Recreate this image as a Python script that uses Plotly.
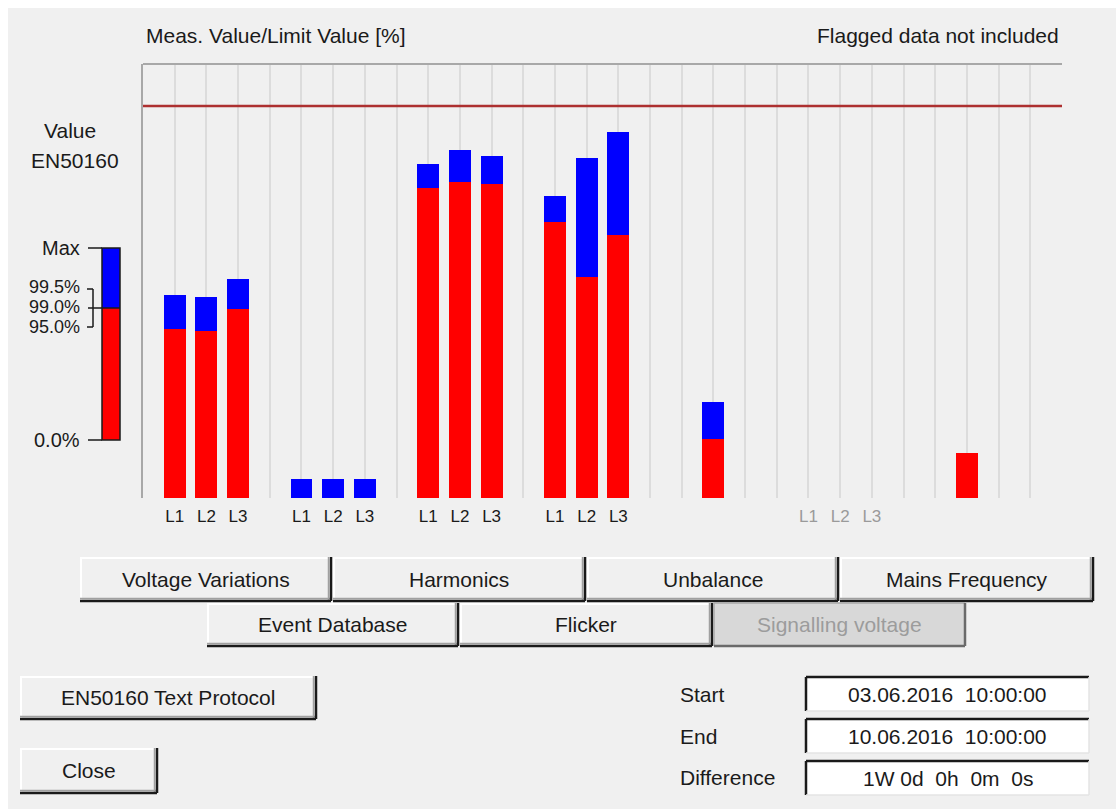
import plotly.graph_objects as go

# ---- data -------------------------------------------------------------
# slot index of every bar on the horizontal scale (28 slots)
bar_slots = [1, 2, 3, 5, 6, 7, 9, 10, 11, 13, 14, 15, 18, 26]
# 95 % value (red part) and maximum (top of blue part), in % of limit value
p95_values = [43.2, 42.7, 48.2, 0.0, 0.0, 0.0, 79.1, 80.6, 80.1, 70.5, 56.4, 67.0, 15.0, 11.5]
max_values = [51.9, 51.3, 55.8, 4.8, 4.8, 4.8, 85.1, 88.7, 87.2, 77.0, 86.6, 93.3, 24.6, 11.5]
limit_value = 100.0

phase_labels = {1: "L1", 2: "L2", 3: "L3", 5: "L1", 6: "L2", 7: "L3",
                9: "L1", 10: "L2", 11: "L3", 13: "L1", 14: "L2", 15: "L3",
                21: "L1", 22: "L2", 23: "L3"}
inactive_slots = [21, 22, 23]
n_slots = 28

# ---- page geometry helpers ---------------------------------------------
W, H = 1116, 809
FONT = "Liberation Sans, Arial, sans-serif"
TXT = "#1a1a1a"
BG = "#f0f0f0"


def px(x):
    return x / W


def py(y):
    return 1 - y / H


shapes = []
annotations = []


def rect(x0, y0, x1, y1, fill, line=None, lw=0):
    shapes.append(dict(type="rect", xref="paper", yref="paper",
                       x0=px(x0), x1=px(x1), y0=py(y1), y1=py(y0),
                       fillcolor=fill, layer="below" if line is None else "above",
                       line=dict(width=lw, color=line or fill)))


def line(x0, y0, x1, y1, color, width=1.5, layer="above"):
    shapes.append(dict(type="line", xref="paper", yref="paper",
                       x0=px(x0), x1=px(x1), y0=py(y0), y1=py(y1),
                       layer=layer, line=dict(color=color, width=width)))


def text(x, y, s, anchor="center", size=21, color=TXT):
    annotations.append(dict(x=px(x), y=py(y), xref="paper", yref="paper",
                            text=s, showarrow=False, xanchor=anchor,
                            yanchor="middle", borderpad=0,
                            font=dict(family=FONT, size=size, color=color)))


def button(x0, y0, x1, y1, label, disabled=False):
    face = "#d8d8d8" if disabled else BG
    rect(x0, y0, x1, y1, face, line=face, lw=0)
    if disabled:
        line(x0, y0, x1, y0, "#a8a8a8", 1.5)
        line(x0, y0, x0, y1, "#a8a8a8", 1.5)
        line(x0, y1, x1, y1, "#6a6a6a", 2.5)
        line(x1, y0, x1, y1, "#6a6a6a", 2.5)
    else:
        line(x0, y0 + 1, x1, y0 + 1, "#ffffff", 2)
        line(x0 + 1, y0, x0 + 1, y1, "#ffffff", 2)
        line(x0, y1 - 2.5, x1, y1 - 2.5, "#a0a0a0", 1.5)
        line(x1 - 2.5, y0, x1 - 2.5, y1, "#a0a0a0", 1.5)
        line(x0, y1, x1, y1, "#1a1a1a", 2.5)
        line(x1, y0, x1, y1, "#1a1a1a", 2.5)
    text((x0 + x1) / 2, (y0 + y1) / 2, label,
         color="#9c9c9c" if disabled else TXT)


def field(x0, y0, x1, y1, value):
    rect(x0, y0, x1, y1, "#ffffff", line="#ffffff", lw=0)
    line(x0, y0, x1, y0, "#1a1a1a", 2.5)
    line(x0, y0, x0, y1, "#1a1a1a", 2.5)
    line(x0, y1, x1, y1, "#e4e4e4", 1.5)
    line(x1, y0, x1, y1, "#e4e4e4", 1.5)
    text((x0 + x1) / 2, (y0 + y1) / 2, value)


# window background
rect(8, 8, W, H, BG)

# ---- bars ---------------------------------------------------------------
blue_part = [m - p for m, p in zip(max_values, p95_values)]

fig = go.Figure()
fig.add_trace(go.Bar(x=bar_slots, y=p95_values, width=0.69,
                     marker=dict(color="#ff0000", line=dict(width=0)),
                     hoverinfo="skip"))
fig.add_trace(go.Bar(x=bar_slots, y=blue_part, width=0.69,
                     marker=dict(color="#0000ff", line=dict(width=0)),
                     hoverinfo="skip"))

tick_vals = list(range(1, n_slots + 1))
tick_text = []
for s in tick_vals:
    lab = phase_labels.get(s, "")
    if lab and s in inactive_slots:
        lab = f'<span style="color:#9a9a9a">{lab}</span>'
    tick_text.append(lab)

# limit line
shapes.append(dict(type="line", xref="x domain", yref="y", x0=0, x1=1,
                   y0=limit_value, y1=limit_value,
                   line=dict(color="#ad3030", width=2.5), layer="above"))
# plot frame (top edge)
line(143, 64, 1062, 64, "#a8a8a8", 2)

# ---- header texts ---------------------------------------------------------
text(145, 36, "Meas. Value/Limit Value [%]", anchor="left")
text(1060, 36, "Flagged data not included", anchor="right")

# ---- key bar on the left --------------------------------------------------
text(70, 130, "Value")
text(75, 160, "EN50160")
rect(102, 248, 120, 308, "#0000ff", line="#0000ff", lw=0)
rect(102, 308, 120, 440, "#ff0000", line="#ff0000", lw=0)
shapes.append(dict(type="rect", xref="paper", yref="paper",
                   x0=px(102), x1=px(120), y0=py(440), y1=py(248),
                   line=dict(color="#1a1a1a", width=1.5), layer="above"))
line(102, 308, 120, 308, "#1a1a1a", 1.5)
line(88, 248, 102, 248, "#1a1a1a", 1.5)
line(88, 440, 102, 440, "#1a1a1a", 1.5)
line(88, 308, 102, 308, "#1a1a1a", 1.5)
line(93, 289, 93, 327, "#1a1a1a", 1.5)
line(87, 289, 93, 289, "#1a1a1a", 1.5)
line(87, 327, 93, 327, "#1a1a1a", 1.5)
text(81, 248, "Max", anchor="right", size=20)
text(81, 287, "99.5%", anchor="right", size=18)
text(81, 307, "99.0%", anchor="right", size=18)
text(81, 327, "95.0%", anchor="right", size=18)
text(81, 440, "0.0%", anchor="right", size=20)

# ---- buttons ---------------------------------------------------------------
button(80, 557, 331, 601, "Voltage Variations")
button(333, 557, 585, 601, "Harmonics")
button(587, 557, 838, 601, "Unbalance")
button(840, 557, 1093, 601, "Mains Frequency")
button(207, 603, 458, 646, "Event Database")
button(460, 603, 712, 646, "Flicker")
button(714, 603, 965, 646, "Signalling voltage", disabled=True)
button(20, 676, 316, 719, "EN50160 Text Protocol")
button(20, 748, 157, 793, "Close")

# ---- period fields ------------------------------------------------------------
text(679, 694, "Start", anchor="left")
text(679, 736, "End", anchor="left")
text(679, 777, "Difference", anchor="left")
field(806, 677, 1089, 711, "03.06.2016  10:00:00")
field(806, 719, 1089, 753, "10.06.2016  10:00:00")
field(806, 761, 1089, 795, "1W 0d  0h  0m  0s")

fig.update_layout(
    width=W, height=H, autosize=False,
    margin=dict(l=0, r=0, t=0, b=0),
    paper_bgcolor="#ffffff", plot_bgcolor="#ffffff",
    barmode="stack", showlegend=False,
    font=dict(family=FONT, size=17, color=TXT),
    xaxis=dict(domain=[px(143), px(1062)], range=[0, n_slots + 1],
               tickvals=tick_vals, ticktext=tick_text, showgrid=True,
               gridcolor="#dcdcdc", gridwidth=2, zeroline=False,
               showline=False, ticks="", ticklabelstandoff=6,
               tickfont=dict(family=FONT, size=17, color="#1a1a1a"),
               fixedrange=True),
    yaxis=dict(domain=[py(498), py(64)], range=[0, 110.7],
               showgrid=False, zeroline=False, showticklabels=False,
               showline=True, linecolor="#a8a8a8", linewidth=2,
               fixedrange=True),
    shapes=shapes, annotations=annotations,
)

fig.write_html("out.html", config={"displayModeBar": False})
